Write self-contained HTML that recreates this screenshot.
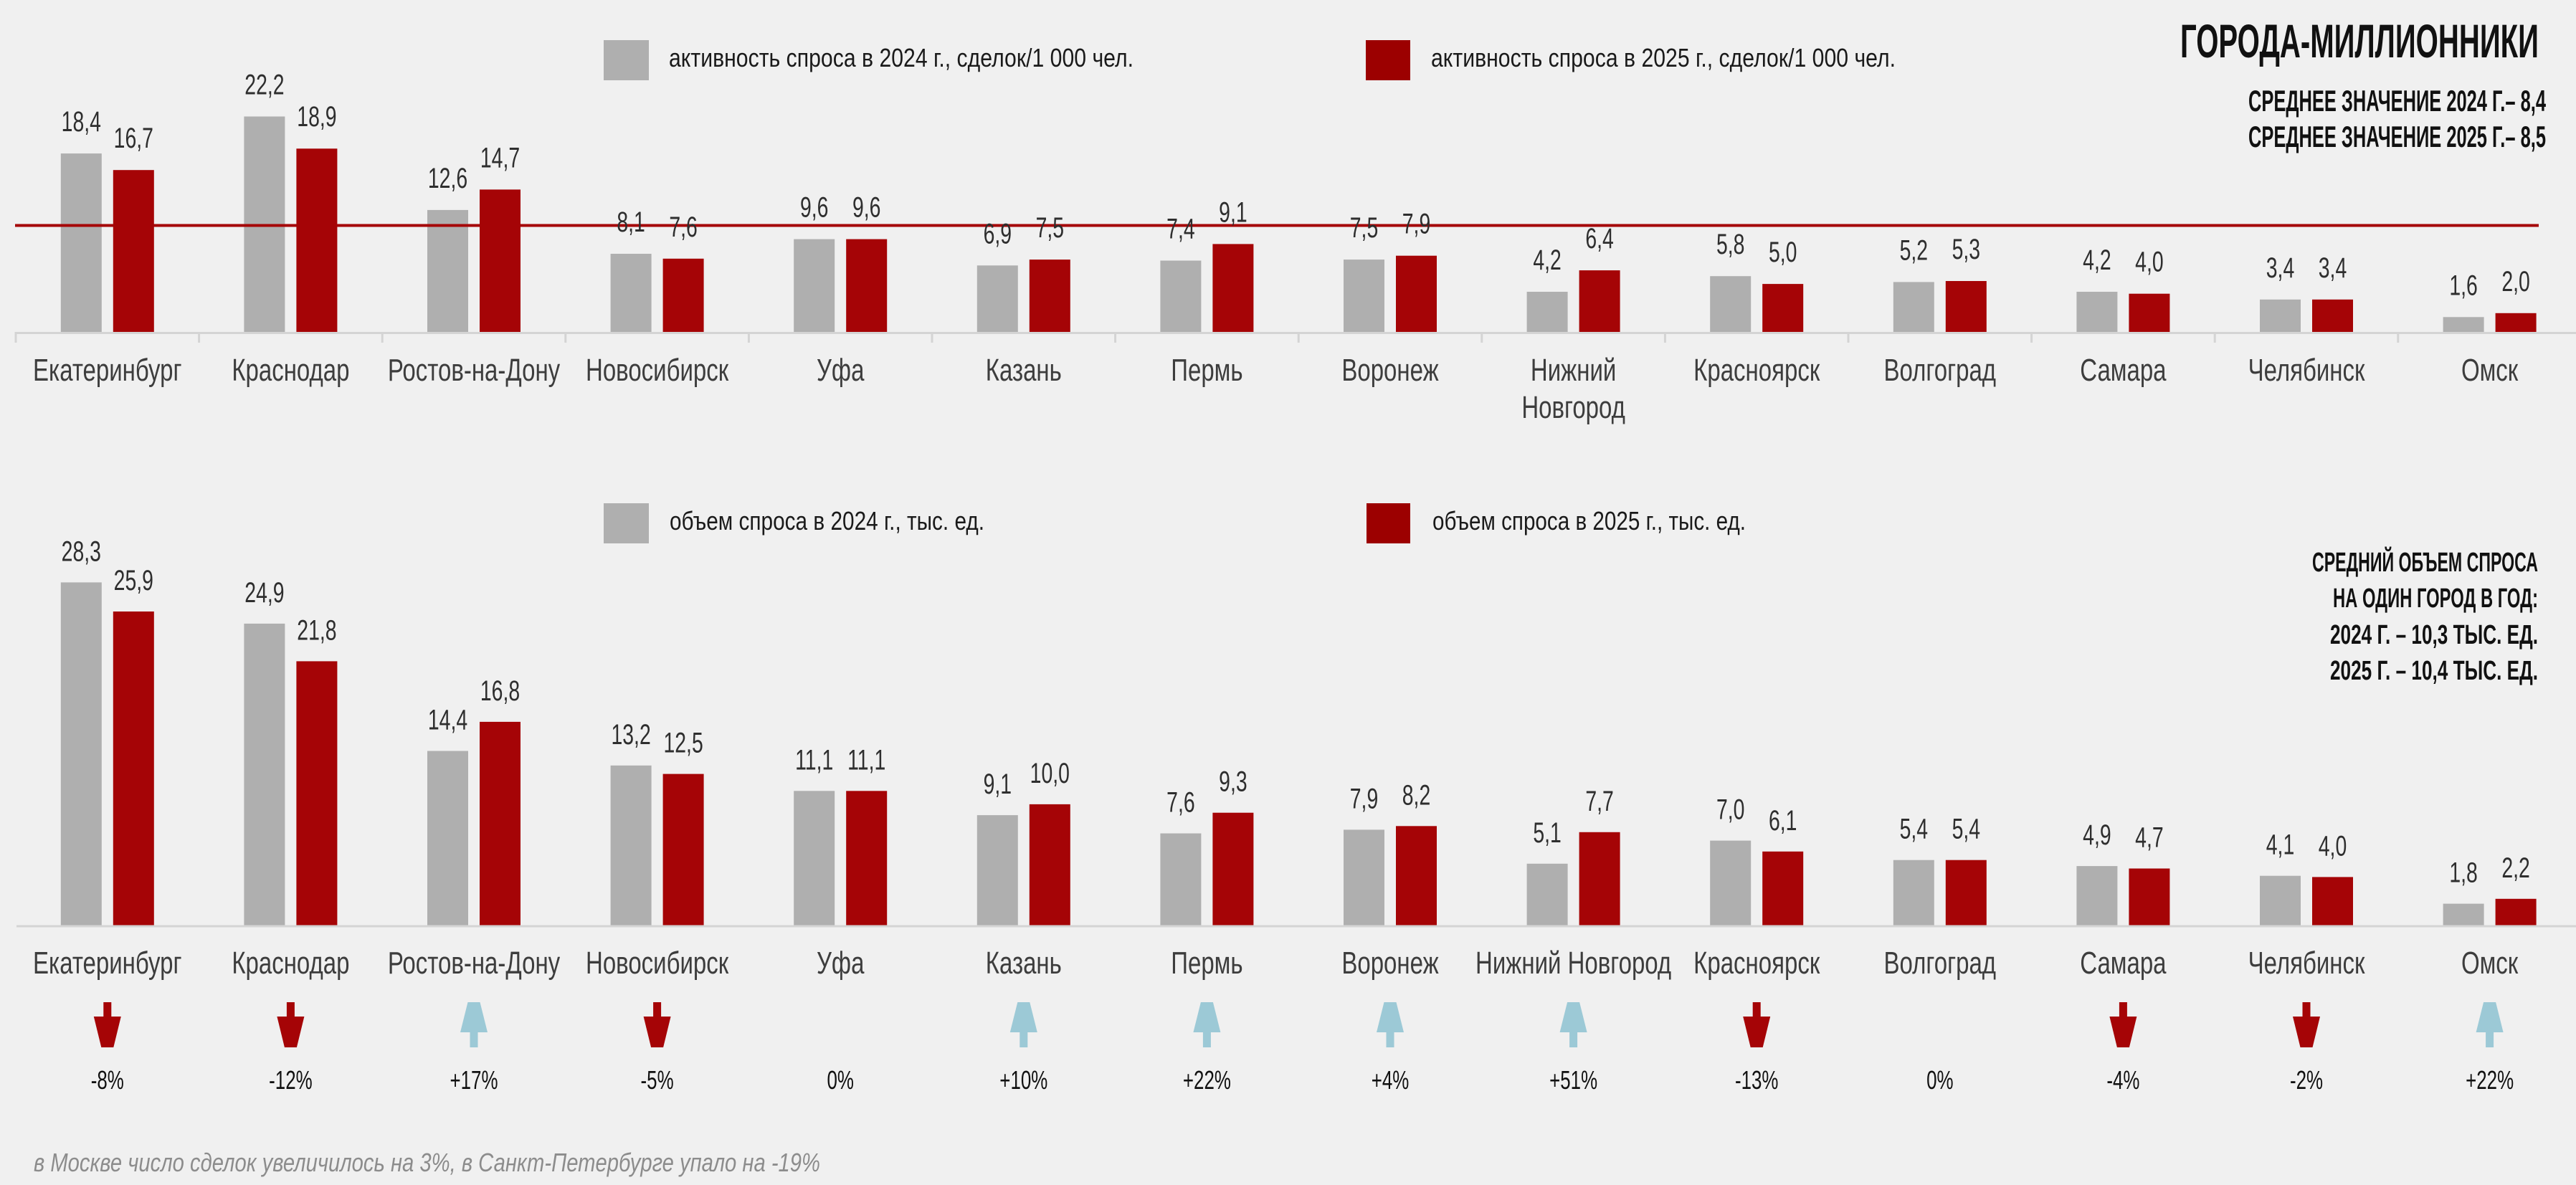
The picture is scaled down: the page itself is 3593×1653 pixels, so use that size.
<!DOCTYPE html>
<html lang="ru">
<head>
<meta charset="utf-8">
<style>
  html,body{margin:0;padding:0;background:#f0f0f0;}
  body{width:3593px;height:1653px;overflow:hidden;}
  svg{display:block;font-family:"Liberation Sans","Noto Sans CJK SC",sans-serif;}
  .v{font-size:40px;fill:#2e2e2e;}
  .c{font-size:44px;fill:#3d3d3d;}
  .p{font-size:36px;fill:#111;}
  .lg{font-size:36px;fill:#1a1a1a;}
  .hd{font-weight:bold;fill:#111;}
  .g{fill:#afafaf;}
  .r{fill:#a50406;}
</style>
</head>
<body>
<svg width="3593" height="1653" viewBox="0 0 3593 1653" xmlns="http://www.w3.org/2000/svg">
<defs>
  <g id="dn"><rect x="-5.5" y="0" width="11" height="24" fill="#a50406"/><polygon points="-19,20 19,20 8.5,63 -8.5,63" fill="#a50406"/></g>
  <g id="up"><polygon points="-8.5,0 8.5,0 19,42 -19,42" fill="#9cc9d6"/><rect x="-5.5" y="40" width="11" height="23" fill="#9cc9d6"/></g>
</defs>
<rect x="0" y="0" width="3593" height="1653" fill="#f0f0f0"/>

<!-- ===== Title block ===== -->
<text class="hd" x="3041" y="80" font-size="66" textLength="500" lengthAdjust="spacingAndGlyphs">ГОРОДА-МИЛЛИОННИКИ</text>
<text class="hd" x="3136" y="155" font-size="42" textLength="415" lengthAdjust="spacingAndGlyphs">СРЕДНЕЕ ЗНАЧЕНИЕ 2024 Г.– 8,4</text>
<text class="hd" x="3136" y="205" font-size="42" textLength="415" lengthAdjust="spacingAndGlyphs">СРЕДНЕЕ ЗНАЧЕНИЕ 2025 Г.– 8,5</text>

<!-- ===== Top legend ===== -->
<rect x="842" y="56" width="63" height="56" fill="#afafaf"/>
<text class="lg" x="933" y="93" textLength="648" lengthAdjust="spacingAndGlyphs">активность спроса в 2024 г., сделок/1 000 чел.</text>
<rect x="1905" y="56" width="62" height="56" fill="#9c0000"/>
<text class="lg" x="1996" y="93" textLength="648" lengthAdjust="spacingAndGlyphs">активность спроса в 2025 г., сделок/1 000 чел.</text>

<!-- ===== Top bars ===== -->
<rect class="g" x="84.8" y="214.1" width="57" height="249.9"/><rect class="r" x="157.8" y="237.2" width="57" height="226.8"/>
<rect class="g" x="340.4" y="162.5" width="57" height="301.5"/><rect class="r" x="413.4" y="207.3" width="57" height="256.7"/>
<rect class="g" x="596.0" y="292.9" width="57" height="171.1"/><rect class="r" x="669.0" y="264.4" width="57" height="199.6"/>
<rect class="g" x="851.6" y="354.0" width="57" height="110.0"/><rect class="r" x="924.6" y="360.8" width="57" height="103.2"/>
<rect class="g" x="1107.2" y="333.6" width="57" height="130.4"/><rect class="r" x="1180.2" y="333.6" width="57" height="130.4"/>
<rect class="g" x="1362.8" y="370.3" width="57" height="93.7"/><rect class="r" x="1435.8" y="362.1" width="57" height="101.9"/>
<rect class="g" x="1618.4" y="363.5" width="57" height="100.5"/><rect class="r" x="1691.4" y="340.4" width="57" height="123.6"/>
<rect class="g" x="1874.0" y="362.1" width="57" height="101.9"/><rect class="r" x="1947.0" y="356.7" width="57" height="107.3"/>
<rect class="g" x="2129.6" y="407.0" width="57" height="57.0"/><rect class="r" x="2202.6" y="377.1" width="57" height="86.9"/>
<rect class="g" x="2385.2" y="385.2" width="57" height="78.8"/><rect class="r" x="2458.2" y="396.1" width="57" height="67.9"/>
<rect class="g" x="2640.8" y="393.4" width="57" height="70.6"/><rect class="r" x="2713.8" y="392.0" width="57" height="72.0"/>
<rect class="g" x="2896.4" y="407.0" width="57" height="57.0"/><rect class="r" x="2969.4" y="409.7" width="57" height="54.3"/>
<rect class="g" x="3152.0" y="417.8" width="57" height="46.2"/><rect class="r" x="3225.0" y="417.8" width="57" height="46.2"/>
<rect class="g" x="3407.6" y="442.3" width="57" height="21.7"/><rect class="r" x="3480.6" y="436.8" width="57" height="27.2"/>

<!-- top axis + ticks -->
<rect x="22" y="463" width="3571" height="3" fill="#d4d4d4"/>
<g fill="#d4d4d4">
<rect x="20.5" y="463" width="3" height="15"/><rect x="276.1" y="463" width="3" height="15"/><rect x="531.7" y="463" width="3" height="15"/><rect x="787.3" y="463" width="3" height="15"/><rect x="1042.9" y="463" width="3" height="15"/><rect x="1298.5" y="463" width="3" height="15"/><rect x="1554.1" y="463" width="3" height="15"/><rect x="1809.7" y="463" width="3" height="15"/><rect x="2065.3" y="463" width="3" height="15"/><rect x="2320.9" y="463" width="3" height="15"/><rect x="2576.5" y="463" width="3" height="15"/><rect x="2832.1" y="463" width="3" height="15"/><rect x="3087.7" y="463" width="3" height="15"/><rect x="3343.3" y="463" width="3" height="15"/>
</g>

<!-- average line -->
<rect x="21" y="312.5" width="3520" height="4" fill="#a50406"/>

<!-- top value labels -->
<g class="v" text-anchor="middle">
<text transform="translate(113.3 183) scale(0.71 1)">18,4</text><text transform="translate(186.3 206) scale(0.71 1)">16,7</text>
<text transform="translate(368.9 131.5) scale(0.71 1)">22,2</text><text transform="translate(441.9 176) scale(0.71 1)">18,9</text>
<text transform="translate(624.5 262) scale(0.71 1)">12,6</text><text transform="translate(697.5 233.4) scale(0.71 1)">14,7</text>
<text transform="translate(880.1 323) scale(0.71 1)">8,1</text><text transform="translate(953.1 330) scale(0.71 1)">7,6</text>
<text transform="translate(1135.7 302.6) scale(0.71 1)">9,6</text><text transform="translate(1208.7 302.6) scale(0.71 1)">9,6</text>
<text transform="translate(1391.3 339.3) scale(0.71 1)">6,9</text><text transform="translate(1464.3 331) scale(0.71 1)">7,5</text>
<text transform="translate(1646.9 332.5) scale(0.71 1)">7,4</text><text transform="translate(1719.9 309.4) scale(0.71 1)">9,1</text>
<text transform="translate(1902.5 331) scale(0.71 1)">7,5</text><text transform="translate(1975.5 325.7) scale(0.71 1)">7,9</text>
<text transform="translate(2158.1 376) scale(0.71 1)">4,2</text><text transform="translate(2231.1 346) scale(0.71 1)">6,4</text>
<text transform="translate(2413.7 354) scale(0.71 1)">5,8</text><text transform="translate(2486.7 365) scale(0.71 1)">5,0</text>
<text transform="translate(2669.3 362.4) scale(0.71 1)">5,2</text><text transform="translate(2742.3 361) scale(0.71 1)">5,3</text>
<text transform="translate(2924.9 376) scale(0.71 1)">4,2</text><text transform="translate(2997.9 378.7) scale(0.71 1)">4,0</text>
<text transform="translate(3180.5 386.8) scale(0.71 1)">3,4</text><text transform="translate(3253.5 386.8) scale(0.71 1)">3,4</text>
<text transform="translate(3436.1 411.3) scale(0.71 1)">1,6</text><text transform="translate(3509.1 405.8) scale(0.71 1)">2,0</text>
</g>

<!-- top category labels -->
<g class="c" text-anchor="middle">
<text transform="translate(149.8 531) scale(0.75 1)">Екатеринбург</text>
<text transform="translate(405.4 531) scale(0.75 1)">Краснодар</text>
<text transform="translate(661.0 531) scale(0.75 1)">Ростов-на-Дону</text>
<text transform="translate(916.6 531) scale(0.75 1)">Новосибирск</text>
<text transform="translate(1172.2 531) scale(0.75 1)">Уфа</text>
<text transform="translate(1427.8 531) scale(0.75 1)">Казань</text>
<text transform="translate(1683.4 531) scale(0.75 1)">Пермь</text>
<text transform="translate(1939.0 531) scale(0.75 1)">Воронеж</text>
<text transform="translate(2194.6 531) scale(0.75 1)">Нижний</text>
<text transform="translate(2194.6 583) scale(0.75 1)">Новгород</text>
<text transform="translate(2450.2 531) scale(0.75 1)">Красноярск</text>
<text transform="translate(2705.8 531) scale(0.75 1)">Волгоград</text>
<text transform="translate(2961.4 531) scale(0.75 1)">Самара</text>
<text transform="translate(3217.0 531) scale(0.75 1)">Челябинск</text>
<text transform="translate(3472.6 531) scale(0.75 1)">Омск</text>
</g>

<!-- ===== Bottom legend ===== -->
<rect x="842" y="702" width="63" height="56" fill="#afafaf"/>
<text class="lg" x="934" y="739" textLength="439" lengthAdjust="spacingAndGlyphs">объем спроса в 2024 г., тыс. ед.</text>
<rect x="1906" y="702" width="61" height="56" fill="#9c0000"/>
<text class="lg" x="1998" y="739" textLength="437" lengthAdjust="spacingAndGlyphs">объем спроса в 2025 г., тыс. ед.</text>

<!-- bottom right text block -->
<text class="hd" x="3225" y="797" font-size="38" textLength="315" lengthAdjust="spacingAndGlyphs">СРЕДНИЙ ОБЪЕМ СПРОСА</text>
<text class="hd" x="3254" y="847" font-size="38" textLength="286" lengthAdjust="spacingAndGlyphs">НА ОДИН ГОРОД В ГОД:</text>
<text class="hd" x="3250" y="898" font-size="38" textLength="290" lengthAdjust="spacingAndGlyphs">2024 Г. – 10,3 ТЫС. ЕД.</text>
<text class="hd" x="3250" y="948" font-size="38" textLength="290" lengthAdjust="spacingAndGlyphs">2025 Г. – 10,4 ТЫС. ЕД.</text>

<!-- ===== Bottom bars ===== -->
<rect class="g" x="84.8" y="812.4" width="57" height="478.6"/><rect class="r" x="157.8" y="853.0" width="57" height="438.0"/>
<rect class="g" x="340.4" y="869.9" width="57" height="421.1"/><rect class="r" x="413.4" y="922.4" width="57" height="368.6"/>
<rect class="g" x="596.0" y="1047.5" width="57" height="243.5"/><rect class="r" x="669.0" y="1006.9" width="57" height="284.1"/>
<rect class="g" x="851.6" y="1067.8" width="57" height="223.2"/><rect class="r" x="924.6" y="1079.6" width="57" height="211.4"/>
<rect class="g" x="1107.2" y="1103.3" width="57" height="187.7"/><rect class="r" x="1180.2" y="1103.3" width="57" height="187.7"/>
<rect class="g" x="1362.8" y="1137.1" width="57" height="153.9"/><rect class="r" x="1435.8" y="1121.9" width="57" height="169.1"/>
<rect class="g" x="1618.4" y="1162.5" width="57" height="128.5"/><rect class="r" x="1691.4" y="1133.7" width="57" height="157.3"/>
<rect class="g" x="1874.0" y="1157.4" width="57" height="133.6"/><rect class="r" x="1947.0" y="1152.3" width="57" height="138.7"/>
<rect class="g" x="2129.6" y="1204.8" width="57" height="86.2"/><rect class="r" x="2202.6" y="1160.8" width="57" height="130.2"/>
<rect class="g" x="2385.2" y="1172.6" width="57" height="118.4"/><rect class="r" x="2458.2" y="1187.8" width="57" height="103.2"/>
<rect class="g" x="2640.8" y="1199.7" width="57" height="91.3"/><rect class="r" x="2713.8" y="1199.7" width="57" height="91.3"/>
<rect class="g" x="2896.4" y="1208.1" width="57" height="82.9"/><rect class="r" x="2969.4" y="1211.5" width="57" height="79.5"/>
<rect class="g" x="3152.0" y="1221.7" width="57" height="69.3"/><rect class="r" x="3225.0" y="1223.4" width="57" height="67.6"/>
<rect class="g" x="3407.6" y="1260.6" width="57" height="30.4"/><rect class="r" x="3480.6" y="1253.8" width="57" height="37.2"/>

<!-- bottom axis -->
<rect x="23" y="1290.5" width="3570" height="3" fill="#d4d4d4"/>

<!-- bottom value labels -->
<g class="v" text-anchor="middle">
<text transform="translate(113.3 782.4) scale(0.71 1)">28,3</text><text transform="translate(186.3 823) scale(0.71 1)">25,9</text>
<text transform="translate(368.9 839.9) scale(0.71 1)">24,9</text><text transform="translate(441.9 892.4) scale(0.71 1)">21,8</text>
<text transform="translate(624.5 1017.5) scale(0.71 1)">14,4</text><text transform="translate(697.5 976.9) scale(0.71 1)">16,8</text>
<text transform="translate(880.1 1037.8) scale(0.71 1)">13,2</text><text transform="translate(953.1 1049.6) scale(0.71 1)">12,5</text>
<text transform="translate(1135.7 1073.3) scale(0.71 1)">11,1</text><text transform="translate(1208.7 1073.3) scale(0.71 1)">11,1</text>
<text transform="translate(1391.3 1107.1) scale(0.71 1)">9,1</text><text transform="translate(1464.3 1091.9) scale(0.71 1)">10,0</text>
<text transform="translate(1646.9 1132.5) scale(0.71 1)">7,6</text><text transform="translate(1719.9 1103.7) scale(0.71 1)">9,3</text>
<text transform="translate(1902.5 1127.4) scale(0.71 1)">7,9</text><text transform="translate(1975.5 1122.3) scale(0.71 1)">8,2</text>
<text transform="translate(2158.1 1174.8) scale(0.71 1)">5,1</text><text transform="translate(2231.1 1130.8) scale(0.71 1)">7,7</text>
<text transform="translate(2413.7 1142.6) scale(0.71 1)">7,0</text><text transform="translate(2486.7 1157.8) scale(0.71 1)">6,1</text>
<text transform="translate(2669.3 1169.7) scale(0.71 1)">5,4</text><text transform="translate(2742.3 1169.7) scale(0.71 1)">5,4</text>
<text transform="translate(2924.9 1178.1) scale(0.71 1)">4,9</text><text transform="translate(2997.9 1181.5) scale(0.71 1)">4,7</text>
<text transform="translate(3180.5 1191.7) scale(0.71 1)">4,1</text><text transform="translate(3253.5 1193.4) scale(0.71 1)">4,0</text>
<text transform="translate(3436.1 1230.6) scale(0.71 1)">1,8</text><text transform="translate(3509.1 1223.8) scale(0.71 1)">2,2</text>
</g>

<!-- bottom category labels -->
<g class="c" text-anchor="middle">
<text transform="translate(149.8 1358) scale(0.75 1)">Екатеринбург</text>
<text transform="translate(405.4 1358) scale(0.75 1)">Краснодар</text>
<text transform="translate(661.0 1358) scale(0.75 1)">Ростов-на-Дону</text>
<text transform="translate(916.6 1358) scale(0.75 1)">Новосибирск</text>
<text transform="translate(1172.2 1358) scale(0.75 1)">Уфа</text>
<text transform="translate(1427.8 1358) scale(0.75 1)">Казань</text>
<text transform="translate(1683.4 1358) scale(0.75 1)">Пермь</text>
<text transform="translate(1939.0 1358) scale(0.75 1)">Воронеж</text>
<text transform="translate(2194.6 1358) scale(0.75 1)">Нижний Новгород</text>
<text transform="translate(2450.2 1358) scale(0.75 1)">Красноярск</text>
<text transform="translate(2705.8 1358) scale(0.75 1)">Волгоград</text>
<text transform="translate(2961.4 1358) scale(0.75 1)">Самара</text>
<text transform="translate(3217.0 1358) scale(0.75 1)">Челябинск</text>
<text transform="translate(3472.6 1358) scale(0.75 1)">Омск</text>
</g>

<!-- arrows -->
<use href="#dn" transform="translate(149.8 1398)"/>
<use href="#dn" transform="translate(405.4 1398)"/>
<use href="#up" transform="translate(661.0 1398)"/>
<use href="#dn" transform="translate(916.6 1398)"/>
<use href="#up" transform="translate(1427.8 1398)"/>
<use href="#up" transform="translate(1683.4 1398)"/>
<use href="#up" transform="translate(1939.0 1398)"/>
<use href="#up" transform="translate(2194.6 1398)"/>
<use href="#dn" transform="translate(2450.2 1398)"/>
<use href="#dn" transform="translate(2961.4 1398)"/>
<use href="#dn" transform="translate(3217.0 1398)"/>
<use href="#up" transform="translate(3472.6 1398)"/>

<!-- percent labels -->
<g class="p" text-anchor="middle">
<text transform="translate(149.8 1519) scale(0.72 1)">-8%</text>
<text transform="translate(405.4 1519) scale(0.72 1)">-12%</text>
<text transform="translate(661.0 1519) scale(0.72 1)">+17%</text>
<text transform="translate(916.6 1519) scale(0.72 1)">-5%</text>
<text transform="translate(1172.2 1519) scale(0.72 1)">0%</text>
<text transform="translate(1427.8 1519) scale(0.72 1)">+10%</text>
<text transform="translate(1683.4 1519) scale(0.72 1)">+22%</text>
<text transform="translate(1939.0 1519) scale(0.72 1)">+4%</text>
<text transform="translate(2194.6 1519) scale(0.72 1)">+51%</text>
<text transform="translate(2450.2 1519) scale(0.72 1)">-13%</text>
<text transform="translate(2705.8 1519) scale(0.72 1)">0%</text>
<text transform="translate(2961.4 1519) scale(0.72 1)">-4%</text>
<text transform="translate(3217.0 1519) scale(0.72 1)">-2%</text>
<text transform="translate(3472.6 1519) scale(0.72 1)">+22%</text>
</g>

<!-- footer -->
<text x="47" y="1634" font-size="36" font-style="italic" fill="#8c8c8c" textLength="1097" lengthAdjust="spacingAndGlyphs">в Москве число сделок увеличилось на 3%, в Санкт-Петербурге упало на -19%</text>
</svg>
</body>
</html>
